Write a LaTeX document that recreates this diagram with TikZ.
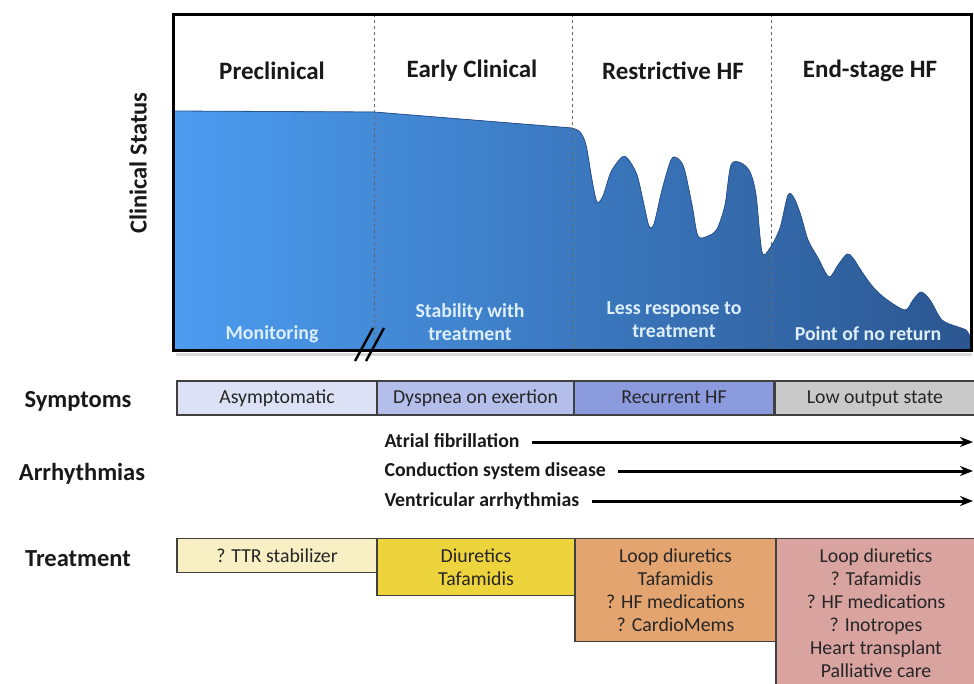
\documentclass[tikz,border=0pt]{standalone}
\usepackage{fontspec}
\setmainfont{Carlito}
\usetikzlibrary{arrows.meta}

\definecolor{blueL}{HTML}{4C9CF0}
\definecolor{blueD}{HTML}{2B5690}
\definecolor{edgeblue}{HTML}{2A5590}
\definecolor{paleblue}{HTML}{DDEEFB}
\definecolor{boxline}{HTML}{404040}
\definecolor{symA}{HTML}{DCE1F5}
\definecolor{symB}{HTML}{B4BEEA}
\definecolor{symC}{HTML}{8B9BDD}
\definecolor{symD}{HTML}{C9C9C9}
\definecolor{trA}{HTML}{F8F0C4}
\definecolor{trB}{HTML}{EDD33C}
\definecolor{trC}{HTML}{E3A46F}
\definecolor{trD}{HTML}{D9A3A0}

\begin{document}
\begin{tikzpicture}[
    x			= 1pt,
    y			= -1pt,
    >			= {Stealth[length=13pt, width=10pt]},
    stage/.style	= {font=\fontsize{25}{29}\selectfont\bfseries, text=black!90},
    rowlabel/.style	= {font=\fontsize{24.5}{28}\selectfont\bfseries, text=black!90},
    status/.style	= {text=paleblue, align=center, font=\fontsize{19.8}{23}\selectfont\bfseries},
    symbox/.style	= {draw=boxline, line width=1.2pt, minimum width=200pt, minimum height=34pt,
                       inner sep=0pt, text depth=2pt, font=\fontsize{19.8}{23}\selectfont, text=black!85},
    trbox/.style	= {draw=boxline, line width=1.2pt, anchor=north, align=center, inner xsep=0pt,
                       inner ysep=10pt, font=\fontsize{19.8}{23}\selectfont, text=black!85},
    arr/.style		= {anchor=west, text height=14pt, text depth=4pt,
                       font=\fontsize{19.8}{23}\selectfont\bfseries, text=black!90}
  ]
\useasboundingbox (0,0) rectangle (974,683);
% clinical status curve
\fill[left color=blueL, right color=blueD] (173,111) -- (374,112) -- (572,128)
  -- plot[smooth, tension=0.5] coordinates {(572,128) (580,132) (586,145) (592,180) (597,202)
     (603,196) (611,172) (622,157) (628,159) (637,175) (644,205) (649,226) (654,224) (662,190)
     (671,160) (677,158) (684,168) (692,205) (698,236) (708,236) (717,229) (725,205) (731,165)
     (741,163) (750,172) (756,195) (762,252) (770,248) (780,228) (788,195) (794,198) (801,216)
     (808,240) (818,258) (829,277) (838,265) (847,254) (853,258) (862,272) (873,287) (886,299)
     (905,310) (913,300) (921,292) (930,300) (942,320) (958,327) (966,330) (971,338)}
  -- (971,350) -- (173,350) -- cycle;
\draw[edgeblue, line width=0.8pt] (173,111) -- (374,112) -- (572,128)
  -- plot[smooth, tension=0.5] coordinates {(572,128) (580,132) (586,145) (592,180) (597,202)
     (603,196) (611,172) (622,157) (628,159) (637,175) (644,205) (649,226) (654,224) (662,190)
     (671,160) (677,158) (684,168) (692,205) (698,236) (708,236) (717,229) (725,205) (731,165)
     (741,163) (750,172) (756,195) (762,252) (770,248) (780,228) (788,195) (794,198) (801,216)
     (808,240) (818,258) (829,277) (838,265) (847,254) (853,258) (862,272) (873,287) (886,299)
     (905,310) (913,300) (921,292) (930,300) (942,320) (958,327) (966,330) (971,338)};
% stage dividers
\foreach \xd in {374,572,771}
  \draw[black!60, dashed, line width=0.7pt] (\xd,14) -- (\xd,350);
% frame
\draw[black!15, line width=3pt] (176,354) -- (972,354);
\draw[black, line width=3pt] (173,14) rectangle (971,350);
% axis break
\draw[black, line width=2.4pt] (355,361) -- (373,328);
\draw[black, line width=2.4pt] (366,361) -- (384,328);
% stage titles
\node[stage] (pre) at (272,71) {Preclinical};
\node[stage] (early) at (472,71) {Early Clinical};
\node[stage] (restr) at (673,71) {Restrictive HF};
\node[stage] (endst) at (870,71) {End-stage HF};
\node[rowlabel, rotate=90] (clin) at (138,163) {Clinical Status};
% status inside the curve
\node[status] (monit) at (272,334) {Monitoring};
\node[status] (stab) at (470,322) {Stability with\\treatment};
\node[status] (less) at (674,320) {Less response to\\treatment};
\node[status] (noret) at (868,334) {Point of no return};
% symptoms
\node[rowlabel] (symlab) at (78,401) {Symptoms};
\node[symbox, fill=symA] (asym) at (277,398) {Asymptomatic};
\node[symbox, fill=symB, minimum width=197pt] (dysp) at (475.5,398) {Dyspnea on exertion};
\node[symbox, fill=symC] (recur) at (674,398) {Recurrent HF};
\node[symbox, fill=symD] (lowout) at (875,398) {Low output state};
% arrhythmias
\node[rowlabel] (arrlab) at (82,474) {Arrhythmias};
\node[arr] (af) at (381,442) {Atrial fibrillation};
\node[arr] (csd) at (381,471) {Conduction system disease};
\node[arr] (va) at (381,501) {Ventricular arrhythmias};
\coordinate (afend) at (973,442);
\coordinate (csdend) at (973,471);
\coordinate (vaend) at (973,501);
\draw[->, line width=3pt] ([xshift=9pt]af.east) -- (afend);
\draw[->, line width=3pt] ([xshift=9pt]csd.east) -- (csdend);
\draw[->, line width=3pt] ([xshift=9pt]va.east) -- (vaend);
% treatment
\node[rowlabel] (trlab) at (78,559) {Treatment};
\node[trbox, fill=trA, minimum width=200pt] (ttr) at (277,538) {? TTR stabilizer};
\node[trbox, fill=trB, minimum width=198pt] (diur) at (476,538) {Diuretics\\Tafamidis};
\node[trbox, fill=trC, minimum width=201pt] (loop) at (675.5,538)
  {Loop diuretics\\Tafamidis\\? HF medications\\? CardioMems};
\node[trbox, fill=trD, minimum width=200pt] (late) at (876,538)
  {Loop diuretics\\? Tafamidis\\? HF medications\\? Inotropes\\Heart transplant\\Palliative care};
%
\end{tikzpicture}
\end{document}
